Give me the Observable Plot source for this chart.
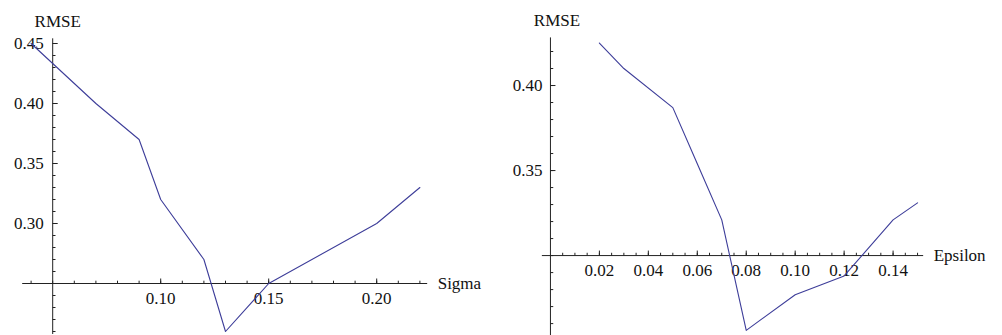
<!DOCTYPE html>
<html><head><meta charset="utf-8">
<script src="https://cdn.jsdelivr.net/npm/d3@7"></script>
<script src="https://cdn.jsdelivr.net/npm/@observablehq/plot@0.6"></script>
<style>
body{margin:0;background:#fff;width:1002px;height:335px;overflow:hidden;position:relative}
.panel{position:absolute;top:0}
</style></head><body>
<div id="left" class="panel" style="left:0"></div>
<div id="right" class="panel" style="left:500px"></div>
<script>
// ---- data ----
const sigma = [0.04, 0.07, 0.09, 0.10, 0.12, 0.13, 0.15, 0.20, 0.22];
const rmseSigma = [0.45, 0.40, 0.37, 0.32, 0.27, 0.21, 0.25, 0.30, 0.33];
const epsilon = [0.02, 0.03, 0.05, 0.06, 0.07, 0.08, 0.10, 0.12, 0.14, 0.15];
const rmseEpsilon = [0.425, 0.41, 0.387, 0.354, 0.321, 0.256, 0.277, 0.288, 0.321, 0.331];

// ---- tick labels ----
const sigmaTicks = [0.10, 0.15, 0.20];
const sigmaRmseTicks = [0.30, 0.35, 0.40, 0.45];
const epsilonTicks = [0.02, 0.04, 0.06, 0.08, 0.10, 0.12, 0.14];
const epsilonRmseTicks = [0.35, 0.40];

const lineColor = "#3d3d99";
const axisColor = "#222";
const FONT = "Liberation Serif, DejaVu Serif, serif";
const txt = {fontFamily: FONT, fontSize: 17, fill: "#111"};

const tickUp = len => ({draw(ctx) { ctx.moveTo(0, 0); ctx.lineTo(0, -len); }});
const tickRight = len => ({draw(ctx) { ctx.moveTo(0, 0); ctx.lineTo(len, 0); }});

function panel(c) {
  const pts = c.xs.map((x, i) => ({x, y: c.ys[i]}));
  return Plot.plot({
    width: c.width, height: 335,
    marginLeft: c.ml, marginRight: c.mr, marginTop: c.mt, marginBottom: c.mb,
    x: {domain: c.xDomain, axis: null},
    y: {domain: c.yDomain, axis: null},
    style: {background: "transparent", overflow: "visible", fontFamily: FONT, fontSize: "17px"},
    marks: [
      Plot.ruleY([c.y0], {x1: c.xExt[0], x2: c.xExt[1], stroke: axisColor, strokeWidth: 1}),
      Plot.ruleX([c.x0], {y1: c.yExt[0], y2: c.yExt[1], stroke: axisColor, strokeWidth: 1}),
      Plot.dot(c.xMinor, {x: d => d, y: c.y0, symbol: tickUp(2.8), stroke: axisColor, fill: "none", strokeWidth: 1}),
      Plot.dot(c.xMajor, {x: d => d, y: c.y0, symbol: tickUp(5), stroke: axisColor, fill: "none", strokeWidth: 1}),
      Plot.dot(c.yMinor, {x: c.x0, y: d => d, symbol: tickRight(2.8), stroke: axisColor, fill: "none", strokeWidth: 1}),
      Plot.dot(c.yMajor, {x: c.x0, y: d => d, symbol: tickRight(5), stroke: axisColor, fill: "none", strokeWidth: 1}),
      Plot.text(c.xMajor, {x: d => d, y: c.y0, text: d => d.toFixed(2), dy: 15, ...txt}),
      Plot.text(c.yMajor, {x: c.x0, y: d => d, text: d => d.toFixed(2), dx: c.ylabDx, textAnchor: "end", ...txt}),
      Plot.text([c.xLabel], {x: c.xExt[1], y: c.y0, text: d => d, dx: 10, textAnchor: "start", ...txt}),
      Plot.text(["RMSE"], {x: c.x0, y: c.yDomain[1], text: d => d, dx: c.rmseDx, dy: c.rmseDy, textAnchor: "middle", ...txt}),
      Plot.line(pts, {x: "x", y: "y", stroke: lineColor, strokeWidth: 1.1})
    ]
  });
}

document.getElementById("left").append(panel({
  xs: sigma, ys: rmseSigma, width: 500,
  ml: 9, mr: 59, mt: 19, mb: 1,
  xDomain: [0.03, 0.23], yDomain: [0.2075, 0.47],
  x0: 0.05, y0: 0.25,
  xExt: [0.0361, 0.2236], yExt: [0.2075, 0.4539],
  xMajor: sigmaTicks,
  xMinor: d3.range(0.04, 0.2205, 0.01),
  yMajor: sigmaRmseTicks,
  yMinor: d3.range(0.21, 0.4505, 0.01),
  xLabel: "Sigma", ylabDx: -9, rmseDx: 5, rmseDy: 2
}));

document.getElementById("right").append(panel({
  xs: epsilon, ys: rmseEpsilon, width: 502,
  ml: 1, mr: 36, mt: 17, mb: 0,
  xDomain: [-0.02, 0.17], yDomain: [0.253, 0.44],
  x0: 0, y0: 0.30,
  xExt: [-0.0033, 0.1525], yExt: [0.253, 0.428],
  xMajor: epsilonTicks,
  xMinor: d3.range(0.005, 0.1505, 0.005),
  yMajor: epsilonRmseTicks,
  yMinor: d3.range(0.26, 0.4205, 0.01),
  xLabel: "Epsilon", ylabDx: -8, rmseDx: 6.5, rmseDy: 3.5
}));
</script>
</body></html>
